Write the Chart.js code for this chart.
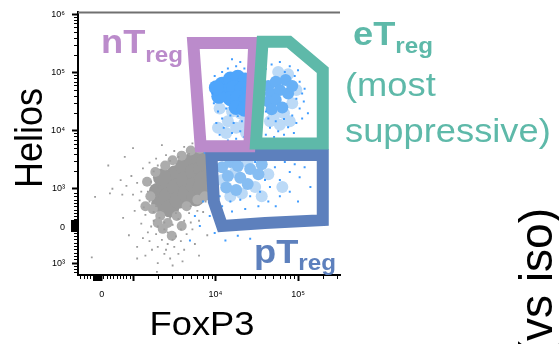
<!DOCTYPE html>
<html>
<head>
<meta charset="utf-8">
<script src="https://cdn.jsdelivr.net/npm/chart.js@4.4.1/dist/chart.umd.min.js"></script>
<style>
  html, body { margin: 0; padding: 0; background: #fff; }
  #wrap { width: 559px; height: 344px; }
</style>
</head>
<body>
<div id="wrap"><canvas id="flowChart" width="559" height="344"></canvas></div>
<script>
// axis units = position on the biexponential display, in decades (10^3 -> 3, 10^4 -> 4 ...)
const xTickValues = [2.62, 3, 4, 5];
const xTickLabels = ["0", "", "10⁴", "10⁵"];
const yTickValues = [1.72, 2.34, 3, 4, 5, 6];
const yTickLabels = ["10³", "0", "10³", "10⁴", "10⁵", "10⁶"];

// gate corners (FoxP3, Helios)
const gateNT = [[3.73, 5.51], [4.47, 5.51], [4.41, 3.73], [3.82, 3.73]];
const gateET = [[4.57, 5.53], [4.89, 5.53], [5.30, 5.04], [5.30, 3.78], [4.49, 3.78]];
const gatePT = [[3.95, 3.58], [5.30, 3.58], [5.30, 2.46], [4.60, 2.41], [4.08, 2.36], [3.98, 2.78]];

// events
const grayCore = [[3.30,2.95],[3.33,2.75],[3.40,3.08],[3.42,2.87],[3.45,2.66],[3.51,3.25],[3.52,3.02],
  [3.55,2.81],[3.62,3.39],[3.63,3.15],[3.65,2.92],[3.73,3.49],[3.74,3.29],[3.75,3.05],[3.82,3.54],
  [3.84,3.35],[3.85,3.15],[3.88,3.46],[3.35,3.20],[3.76,2.85],[3.83,3.02]];
const grayMid = [[3.21,2.87],[3.24,2.65],[3.33,2.53],[3.42,2.41],[3.53,2.53],[3.65,2.70],[3.78,2.81],
  [3.17,3.12],[3.27,3.29],[3.39,3.40],[3.48,3.49],[3.59,3.57],[3.70,3.66],[3.81,3.69],[3.36,2.31],
  [3.47,2.19],[3.30,2.41],[3.59,2.36],[3.15,2.70],[3.87,2.87]];
const grayDots = [[3.05,3.10],[3.10,2.95],[2.98,3.22],[3.12,3.35],[3.20,3.45],[3.28,3.52],[3.40,3.58],
  [3.50,3.65],[3.62,3.72],[3.72,3.78],[3.08,2.80],[3.02,2.62],[3.15,2.55],[3.10,2.40],[3.22,2.35],
  [3.28,2.22],[3.35,2.12],[3.42,2.05],[3.50,2.00],[3.58,2.10],[3.65,2.22],[3.72,2.30],[3.80,2.45],
  [3.85,2.60],[3.40,1.95],[3.30,2.00],[3.20,2.10],[3.55,1.88],[3.45,1.80],[3.62,1.95],[3.75,2.05],
  [3.18,2.25],[3.38,2.30],[3.48,2.38],[3.25,2.45],[3.55,2.48],[3.68,2.58],[3.13,2.68],[3.00,2.90],
  [2.92,3.05],[2.85,3.15],[2.75,3.00],[2.70,3.40],[2.88,2.50],[2.95,2.20],[3.05,2.00],[3.15,1.85],
  [3.30,1.72],[3.60,1.75],[3.80,1.85],[3.90,2.20],[2.90,3.55],[3.00,3.70],[3.35,3.75],[2.54,2.86],
  [2.72,2.92],[2.87,2.90],[2.50,1.82],[3.05,1.80],[3.29,1.57],[3.48,1.68],[3.25,2.60],[3.32,2.50],
  [3.38,2.42],[3.45,2.50],[3.52,2.58],[3.36,2.62],[3.28,2.70],[3.20,2.78],[3.18,2.95],[3.22,3.12],
  [3.25,3.30],[3.30,3.40],[3.45,3.48],[3.55,3.55],[3.68,3.60],[3.78,3.65],[3.90,3.70],[3.70,2.70],
  [3.78,2.62],[3.62,2.45],[3.42,2.25],[3.30,2.35],[3.52,2.18],[3.58,2.30],[3.12,2.15],[3.23,1.95],
  [3.38,1.88],[3.48,2.12],[3.70,2.42],[3.88,2.78]];

const blueNTCore = [[4.08,4.80],[4.18,4.89],[4.27,4.92],[4.36,4.87],[4.13,4.67],[4.22,4.74],[4.32,4.72],
  [4.38,4.64],[4.18,4.55],[4.27,4.57],[4.37,4.52],[4.04,4.59],[4.25,4.40],[4.35,4.37],[4.01,4.74]];
const blueETCore = [[4.64,4.77],[4.67,4.64],[4.64,4.50],[4.73,4.84],[4.78,4.70],[4.73,4.53],[4.85,4.87],
  [4.88,4.64],[4.68,4.37],[4.81,4.40],[4.93,4.77]];
const bluePTCore = [[4.08,3.37],[4.18,3.46],[4.27,3.39],[4.15,3.22],[4.30,3.19],[4.42,3.34],[4.13,3.02],
  [4.25,2.98],[4.39,3.08],[4.52,3.25],[4.56,3.42]];
const blueDots = [
  // nT
  [3.98,4.47],[4.03,4.33],[4.08,4.21],[4.13,4.38],[4.18,4.26],[4.22,4.13],[4.27,4.25],[4.32,4.16],
  [4.37,4.30],[4.39,4.05],[4.30,3.99],[4.20,3.96],[4.10,4.05],[4.05,3.93],[4.15,3.83],[4.25,3.86],
  [4.35,3.89],[4.01,4.13],[3.96,4.64],[3.99,4.94],[4.08,5.01],[4.15,5.07],[4.25,5.11],[4.35,5.07],
  [4.42,5.01],[4.42,4.47],[4.30,5.18],[4.20,5.23],
  // eT
  [4.61,5.06],[4.68,5.14],[4.78,5.18],[4.90,5.11],[5.00,5.04],[5.02,4.84],[5.08,4.72],[4.98,4.55],
  [5.02,4.38],[4.93,4.26],[4.83,4.20],[4.73,4.16],[4.64,4.21],[4.66,4.05],[4.76,3.99],[4.88,4.06],
  [4.98,4.13],[5.05,4.21],[4.61,3.93],[4.71,3.89],[4.83,3.93],[4.95,3.96],[5.07,4.50],[5.12,4.30],
  [4.96,4.94],[4.84,5.01],[5.05,4.64],[4.61,4.33],
  // pT
  [4.05,2.87],[4.18,2.78],[4.30,2.81],[4.42,2.87],[4.54,2.95],[4.66,3.03],[4.78,3.15],[4.90,3.29],
  [4.72,3.37],[4.84,3.46],[4.96,3.42],[5.02,3.20],[4.64,2.78],[4.52,2.70],[4.36,2.65],[4.20,2.61],
  [4.08,2.70],[4.78,2.87],[4.90,2.95],[5.08,3.37],[5.15,3.03],[4.48,3.46],[4.60,3.15],[4.73,2.70],
  [5.00,2.78],
  // outside the gates
  [3.87,3.62],[3.91,3.29],[3.85,2.78],[3.93,2.53],[3.99,2.24],[4.12,2.11],[4.27,2.19],[4.42,2.14],
  [3.81,2.36],[3.75,2.53],[3.69,2.11]];
const blueLight = [[4.05,4.38],[4.15,4.16],[4.25,4.05],[4.35,4.13],[4.13,3.96],[4.30,4.30],[4.03,4.05],
  [4.20,4.33],[4.37,3.96],[4.71,4.26],[4.83,4.30],[4.93,4.47],[4.78,4.10],[4.66,4.16],[4.90,4.16],
  [4.98,4.70],[4.88,4.97],[4.76,5.01],[4.24,3.29],[4.39,3.46],[4.08,3.15],[4.32,2.92],[4.48,3.03],
  [4.64,3.25],[4.18,2.87],[4.56,2.87],[4.81,3.03]];

const FONT = '"Liberation Sans", Arial, sans-serif';
const PURPLE = "#bb8bcb", TEAL = "#5eb9a9", BLUE = "#5d80bd";

const toXY = pts => pts.map(([x, y]) => ({ x, y }));

function pointSet(label, pts, color, r, style, order) {
  return {
    label, data: toXY(pts), backgroundColor: color, borderColor: color,
    pointBackgroundColor: color, pointBorderColor: color,
    pointBorderWidth: 0, borderWidth: 0, pointRadius: r, pointStyle: style, order
  };
}
function gateSet(label, pts, color, order) {
  // run past the first corner again so every corner gets a mitred join
  return {
    label, data: toXY([...pts, pts[0], pts[1]]), showLine: true, borderColor: color,
    borderWidth: 12, pointRadius: 0, fill: false, tension: 0,
    borderJoinStyle: "miter", borderCapStyle: "butt", order
  };
}

function logMinor(from, to) {
  const out = [];
  for (let d = from; d < to; d++) for (let k = 2; k <= 9; k++) out.push(d + Math.log10(k));
  return out;
}

// short ticks, top frame line and all free text
const decorations = {
  id: "decorations",
  afterDraw(chart) {
    const { ctx, chartArea: a } = chart;
    const xs = chart.scales.x, ys = chart.scales.y;
    ctx.save();
    ctx.strokeStyle = "#000";
    ctx.lineWidth = 1;
    ctx.beginPath();
    const yTick = (v, len) => {
      const p = Math.round(ys.getPixelForValue(v)) + 0.5;
      ctx.moveTo(a.left - 1, p); ctx.lineTo(a.left - 1 - len, p);
    };
    const xTick = (v, len) => {
      const p = Math.round(xs.getPixelForValue(v)) + 0.5;
      ctx.moveTo(p, a.bottom + 1); ctx.lineTo(p, a.bottom + 1 + len);
    };
    logMinor(3, 6).forEach(v => yTick(v, 3));
    for (let v = 1.56; v < 2.97; v += 0.057) yTick(v, 3);
    for (let v = 2.28; v < 2.48; v += 0.017) yTick(v, 6);
    logMinor(3, 5).concat([5 + Math.log10(2), 5 + Math.log10(3)]).forEach(v => xTick(v, 3));
    for (let v = 2.36; v < 2.98; v += 0.04) xTick(v, 3);
    for (let v = 2.52; v < 2.62; v += 0.012) xTick(v, 5);
    ctx.stroke();

    ctx.strokeStyle = "#707070";
    ctx.lineWidth = 2;
    ctx.beginPath();
    ctx.moveTo(a.left, a.top); ctx.lineTo(a.right, a.top);
    ctx.stroke();

    const text = (str, x, y, font, color, opts = {}) => {
      ctx.save();
      ctx.translate(x, y);
      ctx.scale(opts.sx || 1.1, 1);
      if (opts.rot) ctx.rotate(opts.rot);
      ctx.font = font;
      ctx.fillStyle = color;
      ctx.textAlign = opts.align || "left";
      ctx.textBaseline = "alphabetic";
      ctx.fillText(str, 0, 0);
      const w = ctx.measureText(str).width * (opts.sx || 1.1);
      ctx.restore();
      return w;
    };
    const bold = s => `bold ${s}px ${FONT}`;
    const plain = s => `${s}px ${FONT}`;

    text("Helios", 42, 138, plain(36), "#000", { align: "center", rot: -Math.PI / 2 });
    text("FoxP3", 202, 335, plain(33), "#000", { align: "center" });

    let w = text("nT", 101, 53, bold(33), PURPLE);
    text("reg", 101 + w, 62, bold(22), PURPLE);
    w = text("eT", 353, 45, bold(33), TEAL);
    text("reg", 353 + w, 53, bold(22), TEAL);
    text("(most", 345, 96, plain(33), TEAL);
    text("suppressive)", 345, 142, plain(33), TEAL);
    w = text("pT", 254, 263, bold(33), BLUE);
    text("reg", 254 + w, 270, bold(22), BLUE);

    text("(vs iso)", 552, 208, plain(46), "#000", { align: "right", rot: -Math.PI / 2, sx: 1 });
    ctx.restore();
  }
};

const axisBase = {
  type: "linear",
  grid: { display: true, drawOnChartArea: false, drawTicks: true, tickLength: 6, tickWidth: 2, tickColor: "#000" },
  border: { display: true, color: "#000", width: 2 },
};

new Chart(document.getElementById("flowChart"), {
  type: "scatter",
  data: {
    datasets: [
      gateSet("eTreg", gateET, TEAL, 0),
      gateSet("nTreg", gateNT, PURPLE, 1),
      gateSet("pTreg", gatePT, BLUE, 2),
      pointSet("blue", blueDots, "#3f9cff", 1.4, "rect", 3),
      pointSet("blue nT", blueNTCore, "#4ea5fb", 7.5, "circle", 4),
      pointSet("blue eT", blueETCore, "#67b0f6", 6, "circle", 5),
      pointSet("blue pT", bluePTCore, "#86bdf2", 6, "circle", 6),
      pointSet("blue light", blueLight, "#bcdaf7", 6, "circle", 7),
      pointSet("gray", grayDots, "#9c9c9c", 1.3, "rect", 8),
      pointSet("gray mid", grayMid, "#acacac", 5, "circle", 9),
      pointSet("gray core", grayCore, "#999999", 9, "circle", 10),
    ]
  },
  options: {
    responsive: false,
    animation: false,
    devicePixelRatio: 1,
    events: [],
    layout: { padding: { left: 0, top: 7, right: 219, bottom: 0 } },
    plugins: { legend: { display: false }, tooltip: { enabled: false } },
    scales: {
      x: {
        ...axisBase,
        min: 2.333, max: 5.509,
        afterBuildTicks: s => { s.ticks = xTickValues.map(v => ({ value: v })); },
        afterFit: s => { s.height = 69; },
        ticks: {
          autoSkip: false, maxRotation: 0, padding: 8, color: "#000",
          font: { family: FONT, size: 9 },
          callback: (v, i) => xTickLabels[i]
        }
      },
      y: {
        ...axisBase,
        min: 1.516, max: 6.035,
        afterBuildTicks: s => { s.ticks = yTickValues.map(v => ({ value: v })); },
        afterFit: s => { s.width = 78; },
        ticks: {
          autoSkip: false, padding: 7, color: "#000",
          font: { family: FONT, size: 9 },
          callback: (v, i) => yTickLabels[i]
        }
      }
    }
  },
  plugins: [decorations]
});
</script>
</body>
</html>
